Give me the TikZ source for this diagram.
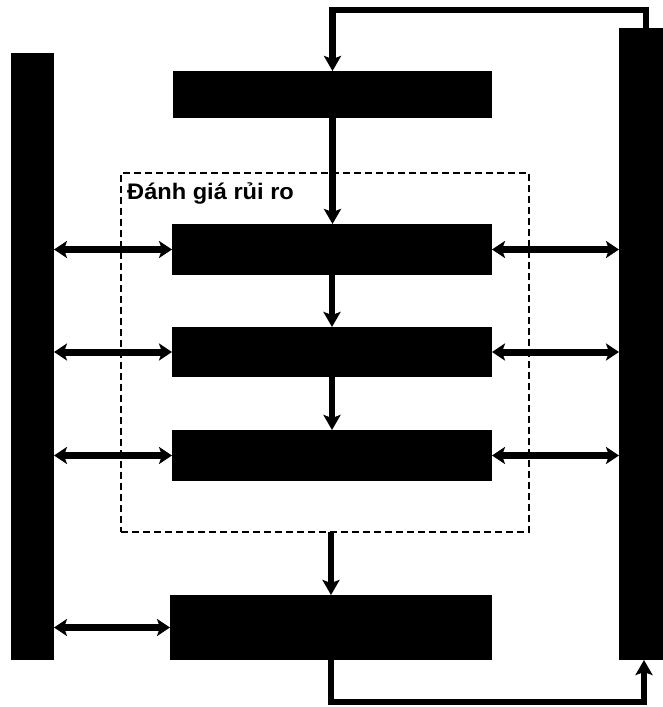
\documentclass[tikz,border=0pt]{standalone}
\usepackage{fontspec}
\setmainfont{Liberation Sans}
\usetikzlibrary{arrows.meta}
\begin{document}
\begin{tikzpicture}[x=1pt,y=-1pt,
  blk/.style={fill=black,draw=none,inner sep=0pt,outer sep=0pt},
  conn/.style={line width=6.5pt,-{Stealth[length=15pt,width=17pt,inset=3pt]}},
  dconn/.style={line width=7pt,{Stealth[length=13pt,width=17pt,inset=3pt]}-{Stealth[length=13pt,width=17pt,inset=3pt]}},
  dashbox/.style={draw=black,line width=1.4pt,dash pattern=on 7pt off 4pt,inner sep=0pt,outer sep=0pt},
  lbl/.style={font=\bfseries\fontsize{22.5}{26}\selectfont,inner sep=0pt,anchor=base west}
]
\useasboundingbox (0,0) rectangle (663,707);
\node[blk,minimum width=43pt,minimum height=607pt] (L) at (32.5,356.5) {};
\node[blk,minimum width=44pt,minimum height=632pt] (R) at (641,344) {};
\node[blk,minimum width=319pt,minimum height=47pt] (T) at (332.5,94.5) {};
\node[blk,minimum width=320pt,minimum height=51pt] (B1) at (332,249.5) {};
\node[blk,minimum width=320pt,minimum height=50pt] (B2) at (332,352) {};
\node[blk,minimum width=320pt,minimum height=51pt] (B3) at (332,455.5) {};
\node[blk,minimum width=322pt,minimum height=65pt] (B4) at (331,627.5) {};
\node[dashbox,minimum width=408pt,minimum height=359pt] (D) at (325,352.5) {};
\node[lbl] (title) at (127,199) {\scalebox{1.05}[1]{Đánh giá rủi ro}};
\coordinate (topy) at (0,10);
\coordinate (boty) at (0,702);
% feedback loops
\draw[conn] ([xshift=5pt]R.north) -- ([xshift=5pt]R.north |- topy) -| (T.north);
\draw[conn] (B4.south) -- (B4.south |- boty) -| ([xshift=3pt]R.south);
% vertical flow
\draw[conn] (T.south) -- (T.south |- B1.north);
\draw[conn] (B1.south) -- (B1.south |- B2.north);
\draw[conn] (B2.south) -- (B2.south |- B3.north);
\draw[conn] (B4.north |- D.south) -- (B4.north);
% side links
\draw[dconn] (L.east |- B1.west) -- (B1.west);
\draw[dconn] (L.east |- B2.west) -- (B2.west);
\draw[dconn] (L.east |- B3.west) -- (B3.west);
\draw[dconn] (L.east |- B4.west) -- (B4.west);
\draw[dconn] (B1.east) -- (R.west |- B1.east);
\draw[dconn] (B2.east) -- (R.west |- B2.east);
\draw[dconn] (B3.east) -- (R.west |- B3.east);
\end{tikzpicture}
\end{document}
